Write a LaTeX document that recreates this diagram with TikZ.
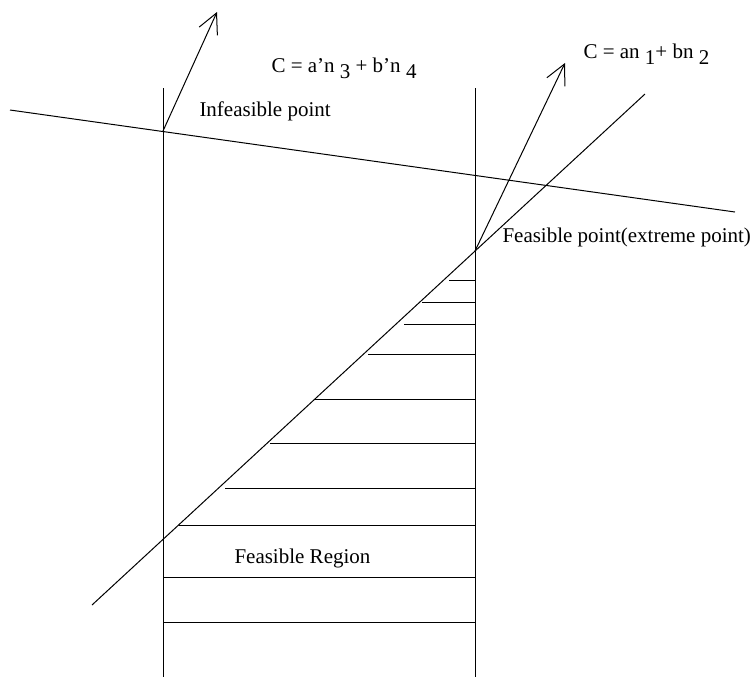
\documentclass[tikz,border=0pt]{standalone}
\usepackage{fontspec}
\setmainfont{Liberation Serif}
\usetikzlibrary{arrows.meta}
\newcommand{\lowsub}[2][3pt]{\raisebox{-#1}{#2}}
\tikzset{
  every picture/.style={line width=0.5pt, x=0.5pt, y=-0.5pt},
  lbl/.style={font=\fontsize{10.5}{12}\selectfont, inner sep=0pt, anchor=base west},
  vec/.style={-{Straight Barb[length=10pt, width=10pt]}},
  hatch/.style={draw, line width=0.5pt},
}
\begin{document}
\begin{tikzpicture}
  \useasboundingbox (0,0) rectangle (756,677);
  \coordinate (l1) at (163,88);
  \coordinate (l2) at (163,677);
  \coordinate (r1) at (475,88);
  \coordinate (r2) at (475,677);
  \coordinate (s1) at (10,110);
  \coordinate (s2) at (735,212);
  \coordinate (d1) at (92,605);
  \coordinate (d2) at (645,94);
  \coordinate (inf) at (163,131);
  \coordinate (ext) at (475,251);
  \coordinate (c1) at (217,12);
  \coordinate (c2) at (565,63);
  \draw (l1) -- (l2);
  \draw (r1) -- (r2);
  \draw (s1) -- (s2);
  \draw (d1) -- (d2);
  \draw[vec] (inf) -- (c1);
  \draw[vec] (ext) -- (c2);
  \foreach \y/\x in {280/449, 302/422, 324/404, 354/368, 399/315, 443/270, 488/225, 525/179, 577/163, 622/163}
    \draw[hatch] (\x,\y) -- (475,\y);
  \node[lbl] (infl) at (199,116) {Infeasible point};
  \node[lbl] (obj2) at (271,72) {C = a’n \lowsub{3} + b’n \lowsub{4}};
  \node[lbl] (obj1) at (583,58) {C = an \lowsub{1}+ bn \lowsub{2}};
  \node[lbl] (extl) at (502,242) {Feasible point(extreme point)};
  \node[lbl] (reg) at (234,563) {Feasible Region};
\end{tikzpicture}
\end{document}
